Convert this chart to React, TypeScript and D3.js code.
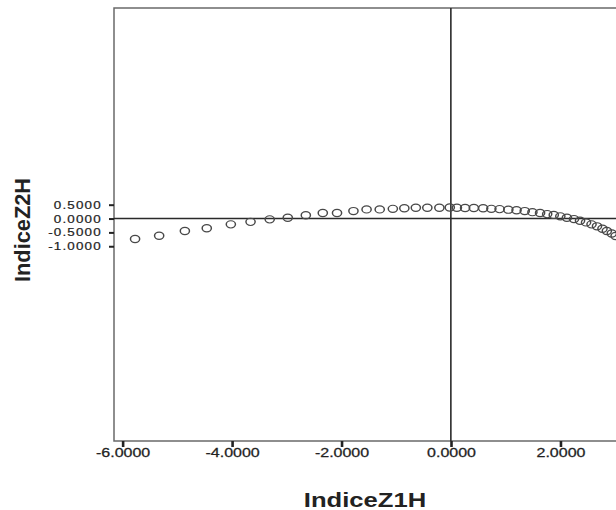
import React, { useEffect, useRef } from 'react';
import * as d3 from 'd3';

// the scanned chart is stretched sideways, so draw in a narrower box and stretch it
const SX = 1.28;
const W = 616;
const H = 510;
const VW = W / SX;

const xTicks = [-6, -4, -2, 0, 2];
const yTicks = [0.5, 0, -0.5, -1];
const xDomain = [-6.155, 3.2];
const yDomain = [-8.03, 7.6];

const indiceZ1H = [
  -5.77, -5.33, -4.86, -4.46, -4.02, -3.66, -3.31, -2.98, -2.65, -2.34, -2.08, -1.78,
  -1.54, -1.3, -1.06, -0.85, -0.64, -0.43, -0.21, -0.02, 0.11, 0.26, 0.42, 0.59,
  0.74, 0.89, 1.05, 1.2, 1.35, 1.49, 1.63, 1.76, 1.88, 2.0, 2.12, 2.25,
  2.36, 2.47, 2.57, 2.67, 2.77, 2.85, 2.94, 3.01,
];
const indiceZ2H = [
  -0.74, -0.62, -0.45, -0.35, -0.21, -0.12, -0.03, 0.03, 0.12, 0.2, 0.2, 0.27,
  0.33, 0.33, 0.35, 0.37, 0.39, 0.39, 0.39, 0.4, 0.39, 0.38, 0.38, 0.37,
  0.35, 0.34, 0.32, 0.3, 0.27, 0.23, 0.2, 0.16, 0.13, 0.08, 0.03, -0.02,
  -0.08, -0.14, -0.21, -0.28, -0.37, -0.45, -0.54, -0.63,
];

const FONT = '"Liberation Sans", Arial, sans-serif';

export default function App() {
  const ref = useRef<SVGSVGElement>(null);

  useEffect(() => {
    const left = 114 / SX;
    const top = 8;
    const bottom = 441;

    const x = d3.scaleLinear().domain(xDomain).range([left, 626 / SX]);
    const y = d3.scaleLinear().domain(yDomain).range([bottom, top]);

    const svg = d3.select(ref.current);
    svg.selectAll('*').remove();

    // frame
    svg
      .append('rect')
      .attr('x', left)
      .attr('y', top)
      .attr('width', VW + 10 - left)
      .attr('height', bottom - top)
      .attr('fill', 'none')
      .attr('stroke', '#6a6a6a')
      .attr('stroke-width', 1.5)
      .attr('vector-effect', 'non-scaling-stroke');

    // reference lines at zero
    svg
      .append('line')
      .attr('x1', x(0))
      .attr('x2', x(0))
      .attr('y1', top)
      .attr('y2', bottom)
      .attr('stroke', '#2a2a2a')
      .attr('stroke-width', 1.6)
      .attr('vector-effect', 'non-scaling-stroke');
    svg
      .append('line')
      .attr('x1', left)
      .attr('x2', VW + 10)
      .attr('y1', y(0))
      .attr('y2', y(0))
      .attr('stroke', '#2a2a2a')
      .attr('stroke-width', 1.6)
      .attr('vector-effect', 'non-scaling-stroke');

    // x axis
    const gx = svg
      .append('g')
      .attr('transform', `translate(0,${bottom})`)
      .call(
        d3
          .axisBottom(x)
          .tickValues(xTicks)
          .tickSize(6)
          .tickFormat((d) => (d as number).toFixed(4))
      );
    gx.select('.domain').remove();
    gx.selectAll('.tick line')
      .attr('stroke', '#222')
      .attr('stroke-width', 2.6)
      .attr('vector-effect', 'non-scaling-stroke');
    gx.selectAll('.tick text')
      .attr('y', 16.5)
      .attr('dy', 0)
      .attr('fill', '#222')
      .attr('stroke', '#222')
      .attr('stroke-width', 0.25)
      .style('font-family', FONT)
      .style('font-size', '12.5px');

    // y axis
    const gy = svg
      .append('g')
      .attr('transform', `translate(${left},0)`)
      .call(
        d3
          .axisLeft(y)
          .tickValues(yTicks)
          .tickSize(5 / SX)
          .tickFormat((d) => (d as number).toFixed(4))
      );
    gy.select('.domain').remove();
    gy.selectAll('.tick line')
      .attr('stroke', '#222')
      .attr('stroke-width', 2)
      .attr('vector-effect', 'non-scaling-stroke');
    gy.selectAll('.tick text')
      .attr('x', -9.5)
      .attr('dy', '0.34em')
      .attr('fill', '#222')
      .attr('stroke', '#222')
      .attr('stroke-width', 0.2)
      .style('font-family', FONT)
      .style('font-size', '10.5px')
      .style('letter-spacing', '0.9px');

    // points
    svg
      .append('g')
      .selectAll('circle')
      .data(indiceZ1H.map((v, i) => [v, indiceZ2H[i]]))
      .join('circle')
      .attr('cx', (d) => x(d[0]))
      .attr('cy', (d) => y(d[1]))
      .attr('r', 3.6)
      .attr('fill', 'none')
      .attr('stroke', '#484848')
      .attr('stroke-width', 1.15);

    // titles
    svg
      .append('text')
      .attr('x', 365 / SX)
      .attr('y', 507)
      .attr('text-anchor', 'middle')
      .attr('fill', '#222')
      .style('font-family', FONT)
      .style('font-weight', 'bold')
      .style('font-size', '20px')
      .text('IndiceZ1H');

    svg
      .append('text')
      .attr('transform', `translate(${29.5 / SX},230) rotate(-90)`)
      .attr('text-anchor', 'middle')
      .attr('fill', '#222')
      .attr('textLength', 104)
      .attr('lengthAdjust', 'spacingAndGlyphs')
      .style('font-family', FONT)
      .style('font-weight', 'bold')
      .style('font-size', '17px')
      .text('IndiceZ2H');
  }, []);

  return (
    <svg
      ref={ref}
      width={W}
      height={H}
      viewBox={`0 0 ${VW} ${H}`}
      preserveAspectRatio="none"
      style={{ position: 'absolute', left: 0, top: 0, background: '#fff' }}
    />
  );
}
